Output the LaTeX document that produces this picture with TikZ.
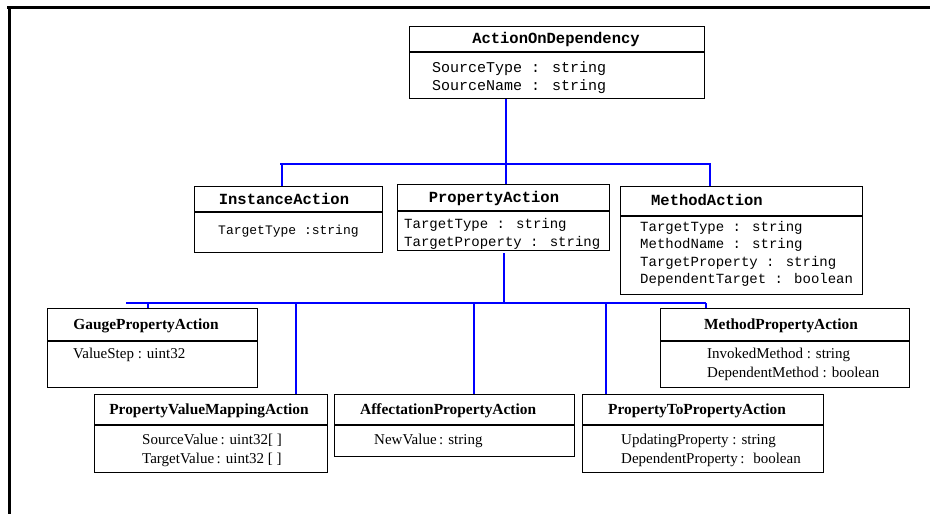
\documentclass[tikz,border=0pt]{standalone}
\usepackage{fontspec}
\setmainfont{Liberation Serif}
\newfontfamily\monofont{Liberation Mono}
\usepackage{tikz}
\usetikzlibrary{calc,positioning}

\tikzset{
  classbox/.style={draw, line width=1.3pt, anchor=north west, inner sep=0pt},
  divider/.style={line width=1.3pt},
  mtitle/.style={font=\monofont\bfseries\fontsize{15.5}{18}\selectfont, inner sep=0pt},
  mattr/.style={font=\monofont\fontsize{14}{17.5}\selectfont, align=left, anchor=west, inner sep=0pt},
  stitle/.style={font=\bfseries\fontsize{15.4}{18}\selectfont, inner sep=0pt},
  sattr/.style={font=\fontsize{15}{19}\selectfont, align=left, anchor=west, inner sep=0pt},
  link/.style={blue, line width=1.5pt},
  frame/.style={line width=3pt}
}

\begin{document}
\begin{tikzpicture}[x=1pt,y=-1pt]
\useasboundingbox (0,0) rectangle (930,514);
\draw[frame](7,7)--(930,7);
\draw[frame](9,7)--(9,514);

% classe mere
\node[classbox, minimum width=295, minimum height=72](aod)at(409,26){};
\node[mtitle](aod-t)at(556,39){ActionOnDependency};
\draw[divider](aod.west|-0,52)--(aod.east|-0,52);
\node[mattr, font=\monofont\fontsize{15}{18}\selectfont](aod-a)at(432,78){SourceType : string\\SourceName : string};

% premier niveau
\node[classbox, minimum width=188, minimum height=66](inst)at(194,186){};
\node[mtitle](inst-t)at(284,199){InstanceAction};
\draw[divider](inst.west|-0,212)--(inst.east|-0,212);
\node[mattr, font=\monofont\fontsize{13}{17}\selectfont](inst-a)at(218,231){TargetType :string};

\node[classbox, minimum width=212, minimum height=66](prop)at(397,184){};
\node[mtitle](prop-t)at(494,198){PropertyAction};
\draw[divider](prop.west|-0,211)--(prop.east|-0,211);
\node[mattr](prop-a)at(404,234){TargetType : string\\TargetProperty : string};

\node[classbox, minimum width=242, minimum height=108](meth)at(620,186){};
\node[mtitle](meth-t)at(707,200){MethodAction};
\draw[divider](meth.west|-0,216)--(meth.east|-0,216);
\node[mattr](meth-a)at(640,254){TargetType : string\\MethodName : string\\TargetProperty : string\\DependentTarget : boolean};

% second niveau
\node[classbox, minimum width=210, minimum height=79](gauge)at(47,308){};
\node[stitle](gauge-t)at(146,326){GaugePropertyAction};
\draw[divider](gauge.west|-0,341)--(gauge.east|-0,341);
\node[sattr](gauge-a)at(73,355){ValueStep : uint32};

\node[classbox, minimum width=249, minimum height=79](mpa)at(660,308){};
\node[stitle](mpa-t)at(781,326){MethodPropertyAction};
\draw[divider](mpa.west|-0,341)--(mpa.east|-0,341);
\node[sattr](mpa-a)at(707,364){InvokedMethod : string\\DependentMethod : boolean};

\node[classbox, minimum width=233, minimum height=78](pvm)at(94,394){};
\node[stitle](pvm-t)at(209,411){PropertyValueMappingAction};
\draw[divider](pvm.west|-0,425)--(pvm.east|-0,425);
\node[sattr](pvm-a)at(142,450){SourceValue\,: uint32[~]\\TargetValue\,: uint32 [~]};

\node[classbox, minimum width=240, minimum height=62](aff)at(334,394){};
\node[stitle, anchor=west](aff-t)at(360,411){AffectationPropertyAction};
\draw[divider](aff.west|-0,425)--(aff.east|-0,425);
\node[sattr](aff-a)at(374,441){NewValue\,: string};

\node[classbox, minimum width=241, minimum height=78](p2p)at(582,394){};
\node[stitle](p2p-t)at(697,411){PropertyToPropertyAction};
\draw[divider](p2p.west|-0,425)--(p2p.east|-0,425);
\node[sattr](p2p-a)at(621,450){UpdatingProperty : string\\DependentProperty\,:~ boolean};

% heritage
\coordinate(bus1w)at(280,164);
\coordinate(bus1e)at(711,164);
\coordinate(bus1)at(506,164);
\coordinate(d-inst)at(282,164);
\coordinate(d-meth)at(710,164);
\draw[link](bus1w)--(bus1e);
\draw[link](aod.south-|bus1)--(prop.north-|bus1);
\draw[link](d-inst)--(d-inst|-inst.north);
\draw[link](d-meth)--(d-meth|-meth.north);

\coordinate(bus2w)at(126,303);
\coordinate(bus2e)at(706,303);
\coordinate(bus2)at(504,303);
\coordinate(d-gauge)at(148,303);
\coordinate(d-pvm)at(296,303);
\coordinate(d-aff)at(474,303);
\coordinate(d-p2p)at(606,303);
\draw[link](bus2w)--(bus2e);
\draw[link](bus2|-0,253)--(bus2);
\draw[link](d-gauge)--(d-gauge|-gauge.north);
\draw[link](d-pvm)--(d-pvm|-pvm.north);
\draw[link](d-aff)--(d-aff|-aff.north);
\draw[link](d-p2p)--(d-p2p|-p2p.north);
\draw[link](bus2e)--(bus2e|-mpa.north);
\end{tikzpicture}
\end{document}
